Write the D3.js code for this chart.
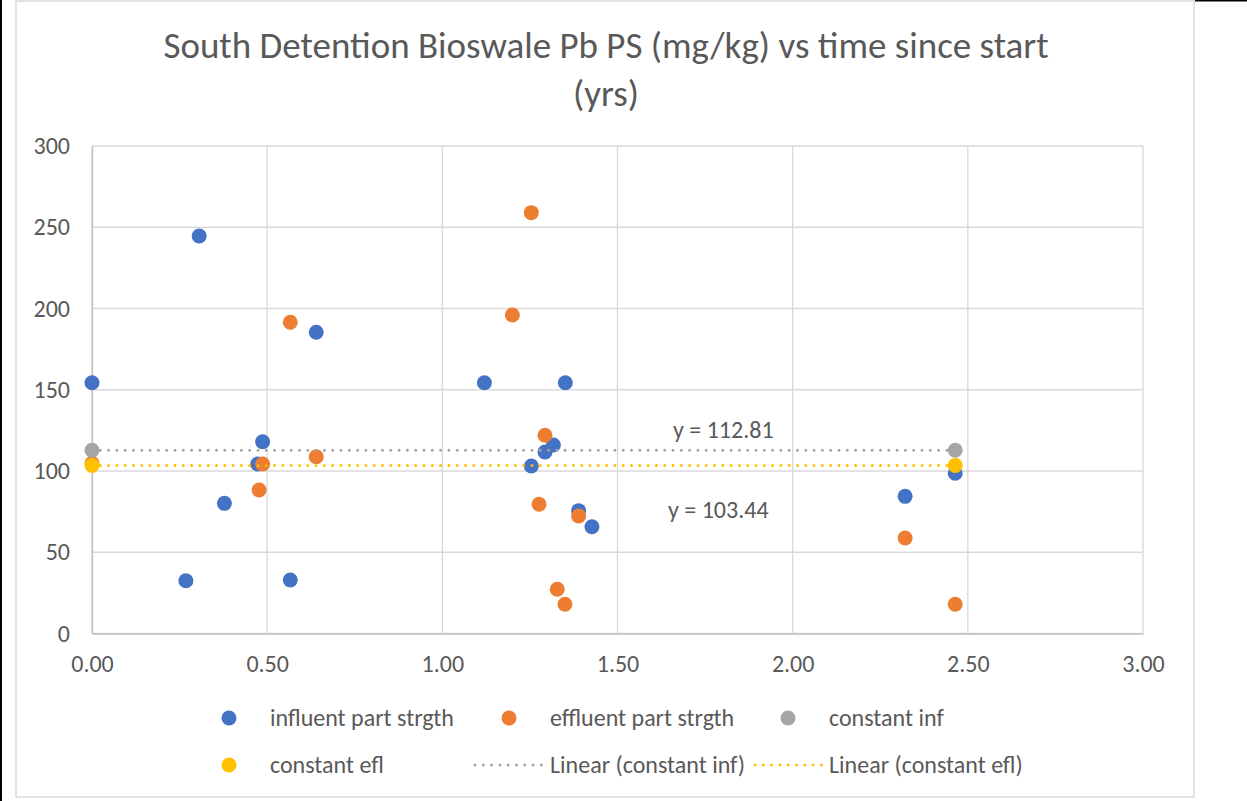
<!DOCTYPE html>
<html>
<head>
<meta charset="utf-8">
<script src="https://cdn.jsdelivr.net/npm/d3@7"></script>
<style>
  html, body { margin: 0; padding: 0; background: #fff; }
  svg { display: block; }
  text { font-family: Calibri, Carlito, "Open Sans", sans-serif; fill: #595959; }
</style>
</head>
<body>
<svg id="chart" width="1247" height="801"></svg>
<script>
// ---- data ----
const titleLines = ["South Detention Bioswale Pb PS (mg/kg) vs time since start", "(yrs)"];
const influentX = [0, 0.306, 0.640, 0.487, 0.473, 0.378, 0.268, 0.566, 1.120, 1.351, 1.317, 1.293, 1.254, 1.389, 1.427, 2.321, 2.464];
const influentY = [154.3, 244.6, 185.4, 118.0, 104.3, 80.1, 32.5, 32.9, 154.3, 154.3, 116.0, 111.7, 103.1, 75.6, 65.7, 84.4, 98.6];
const effluentX = [0, 0.566, 0.640, 0.487, 0.477, 1.254, 1.200, 1.293, 1.276, 1.389, 1.328, 1.350, 2.321, 2.464];
const effluentY = [104.7, 191.5, 108.8, 104.3, 88.3, 259.0, 196.0, 122.0, 79.5, 72.3, 27.2, 18.0, 58.8, 18.0];
const constantX = [0, 2.464];
const constantInfY = [112.81, 112.81];
const constantEflY = [103.44, 103.44];
const xTicks = [0, 0.5, 1.0, 1.5, 2.0, 2.5, 3.0];
const yTicks = [0, 50, 100, 150, 200, 250, 300];
const trendLabels = ["y = 112.81", "y = 103.44"];
const legendNames = ["influent part strgth", "effluent part strgth", "constant inf", "constant efl", "Linear (constant inf)", "Linear (constant efl)"];

const C = { blue: "#4472c4", orange: "#ed7d31", gray: "#a5a5a5", yellow: "#ffc000", grid: "#d9d9d9" };
const FONT = 'Calibri, Carlito, "Open Sans", sans-serif';

const svg = d3.select("#chart");

// frame
svg.append("rect").attr("x", 0).attr("y", 0).attr("width", 1247).attr("height", 801).attr("fill", "#fff");
svg.append("rect").attr("x", 16).attr("y", 1).attr("width", 1178).attr("height", 796)
  .attr("fill", "#fff").attr("stroke", C.grid).attr("stroke-width", 1.5);
svg.append("line").attr("x1", 1).attr("x2", 1).attr("y1", 0).attr("y2", 801).attr("stroke", "#000").attr("stroke-width", 2);
svg.append("line").attr("x1", 1195).attr("x2", 1247).attr("y1", 0.75).attr("y2", 0.75).attr("stroke", "#000").attr("stroke-width", 1.5);

// title
svg.append("text").attr("x", 606).attr("y", 58).attr("text-anchor", "middle")
  .style("font-size", "37px").style("font-weight", 300).text(titleLines[0]);
svg.append("text").attr("x", 606).attr("y", 106).attr("text-anchor", "middle")
  .style("font-size", "37px").style("font-weight", 300).text(titleLines[1]);

// scales
const x = d3.scaleLinear().domain([0, 3]).range([92, 1143]);
const y = d3.scaleLinear().domain([0, 300]).range([633.5, 146]);

// gridlines
const g = svg.append("g");
g.selectAll(".vg").data(xTicks).join("line")
  .attr("x1", d => x(d)).attr("x2", d => x(d)).attr("y1", y(300)).attr("y2", y(0))
  .attr("stroke", C.grid).attr("stroke-width", 1.3);
g.selectAll(".hg").data(yTicks).join("line")
  .attr("x1", x(0)).attr("x2", x(3)).attr("y1", d => y(d)).attr("y2", d => y(d))
  .attr("stroke", C.grid).attr("stroke-width", 1.3);

// axes
const xAxis = svg.append("g").attr("transform", `translate(0,${y(0)})`)
  .call(d3.axisBottom(x).tickValues(xTicks).tickFormat(d3.format(".2f")).tickSize(0).tickPadding(21));
xAxis.select(".domain").attr("stroke", "#bfbfbf").attr("stroke-width", 1.3);
xAxis.selectAll("text").style("font-size", "24px").attr("fill", "#595959").style("font-family", FONT);

const yAxis = svg.append("g").attr("transform", `translate(${x(0)},0)`)
  .call(d3.axisLeft(y).tickValues(yTicks).tickFormat(d3.format("d")).tickSize(0).tickPadding(22));
yAxis.select(".domain").attr("stroke", "#bfbfbf").attr("stroke-width", 1.3);
yAxis.selectAll("text").style("font-size", "24px").attr("fill", "#595959").style("font-family", FONT);

// points
const R = 7.5;
function dots(xs, ys, color) {
  svg.append("g").selectAll("circle").data(xs.map((v, i) => [v, ys[i]])).join("circle")
    .attr("cx", d => x(d[0])).attr("cy", d => y(d[1])).attr("r", R).attr("fill", color);
}
dots(influentX, influentY, C.blue);
dots(effluentX, effluentY, C.orange);
dots(constantX, constantInfY, C.gray);
dots(constantX, constantEflY, C.yellow);

// trendlines (linear fit of constant series)
function fitLine(xs, ys, color) {
  const n = xs.length;
  const mx = d3.mean(xs), my = d3.mean(ys);
  let sxy = 0, sxx = 0;
  for (let i = 0; i < n; i++) { sxy += (xs[i] - mx) * (ys[i] - my); sxx += (xs[i] - mx) ** 2; }
  const b = sxx ? sxy / sxx : 0, a = my - b * mx;
  const x0 = d3.min(xs), x1 = d3.max(xs);
  svg.append("line").attr("x1", x(x0)).attr("x2", x(x1)).attr("y1", y(a + b * x0)).attr("y2", y(a + b * x1))
    .attr("stroke", color).attr("stroke-width", 3).attr("stroke-linecap", "round")
    .attr("stroke-dasharray", "0,8.3");
}
fitLine(constantX, constantInfY, C.gray);
fitLine(constantX, constantEflY, C.yellow);

svg.append("text").attr("x", 673).attr("y", 438).style("font-size", "24px").text(trendLabels[0]);
svg.append("text").attr("x", 668).attr("y", 518).style("font-size", "24px").text(trendLabels[1]);

// legend
const legendItems = [
  { name: legendNames[0], color: C.blue, type: "dot", mx: 229, tx: 270, y: 718 },
  { name: legendNames[1], color: C.orange, type: "dot", mx: 509, tx: 550, y: 718 },
  { name: legendNames[2], color: C.gray, type: "dot", mx: 788, tx: 829, y: 718 },
  { name: legendNames[3], color: C.yellow, type: "dot", mx: 229, tx: 270, y: 765 },
  { name: legendNames[4], color: C.gray, type: "line", mx: 475, tx: 550, y: 765 },
  { name: legendNames[5], color: C.yellow, type: "line", mx: 755, tx: 829, y: 765 }
];
const lg = svg.append("g");
legendItems.forEach(it => {
  if (it.type === "dot") {
    lg.append("circle").attr("cx", it.mx).attr("cy", it.y).attr("r", 7.5).attr("fill", it.color);
  } else {
    lg.append("line").attr("x1", it.mx).attr("x2", it.mx + 68).attr("y1", it.y).attr("y2", it.y)
      .attr("stroke", it.color).attr("stroke-width", 3).attr("stroke-linecap", "round").attr("stroke-dasharray", "0,8.3");
  }
  lg.append("text").attr("x", it.tx).attr("y", it.y).attr("dy", "0.35em").style("font-size", "24px").text(it.name);
});
</script>
</body>
</html>
